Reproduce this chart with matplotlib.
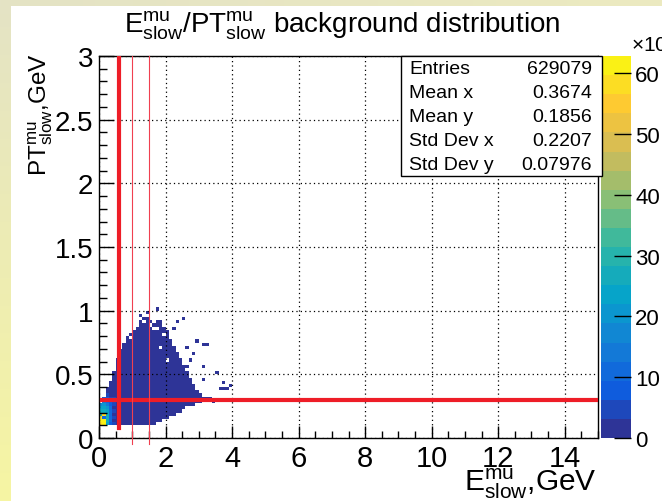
import numpy as np
import matplotlib
matplotlib.use("Agg")
import matplotlib.pyplot as plt
from matplotlib.colors import ListedColormap, LinearSegmentedColormap, BoundaryNorm
from matplotlib.patches import Rectangle
from matplotlib.ticker import MultipleLocator

plt.rcParams['font.family'] = ['Liberation Sans', 'DejaVu Sans']
plt.rcParams['mathtext.fontset'] = 'custom'
plt.rcParams['mathtext.rm'] = 'Liberation Sans'
plt.rcParams['mathtext.it'] = 'Liberation Sans:italic'

# binning of the 2D histogram (GeV)
x_bin = 0.1
y_bin = 0.025
x_max = 15.0
y_max = 3.0

# filled columns: lower x edge, and y span of occupied bins
col_x = [0.0, 0.1, 0.2, 0.3, 0.4, 0.5, 0.6, 0.7, 0.8, 0.9, 1.0, 1.1, 1.2, 1.3, 1.4, 1.5, 1.6,
         1.7, 1.8, 1.9, 2.0, 2.1, 2.2, 2.3, 2.4, 2.5, 2.6, 2.7, 2.8, 2.9, 3.0, 3.1, 3.2]
col_ylo = [0.100, 0.100, 0.100, 0.100, 0.100, 0.100, 0.100, 0.100, 0.100, 0.100, 0.100, 0.100,
           0.100, 0.100, 0.100, 0.100, 0.110, 0.125, 0.140, 0.160, 0.170, 0.180, 0.190, 0.210,
           0.220, 0.230, 0.250, 0.260, 0.270, 0.280, 0.290, 0.300, 0.300]
col_yhi = [0.230, 0.330, 0.400, 0.450, 0.530, 0.630, 0.700, 0.750, 0.800, 0.825, 0.850, 0.900,
           0.925, 0.950, 0.950, 0.925, 0.900, 0.925, 0.925, 0.875, 0.850, 0.775, 0.725, 0.675,
           0.625, 0.575, 0.525, 0.475, 0.425, 0.390, 0.360, 0.340, 0.330]
bulk_count = 1500

# isolated low-count bins outside the main band
stray_x = [1.7, 1.2, 1.4, 2.3, 2.5, 2.2, 2.9, 3.1, 3.2, 2.6, 2.8, 2.7, 3.1, 2.6, 3.1, 3.5,
           3.7, 3.6, 3.7, 3.8, 3.9, 3.3, 3.4]
stray_y = [1.000, 0.950, 0.975, 0.900, 0.925, 0.850, 0.750, 0.725, 0.725, 0.700, 0.650, 0.600,
           0.550, 0.550, 0.450, 0.500, 0.425, 0.375, 0.375, 0.375, 0.400, 0.300, 0.275]
stray_count = 300

# empty bins along the upper edge of the band
hole_x = [1.1, 1.3, 1.5, 1.6, 1.8, 1.9, 2.0, 0.9, 1.7]
hole_y = [0.875, 0.900, 0.875, 0.850, 0.700, 0.800, 0.600, 0.775, 0.850]

# high-occupancy bins at low E and PT
hot_x = [0.0, 0.0, 0.0, 0.0, 0.0, 0.0, 0.0,
         0.1, 0.1, 0.1, 0.1, 0.1, 0.1, 0.1, 0.1, 0.1,
         0.2, 0.2, 0.2, 0.2, 0.2, 0.2, 0.2, 0.2, 0.2, 0.2,
         0.3, 0.3, 0.3, 0.3, 0.3, 0.3, 0.3, 0.3, 0.3,
         0.4, 0.4, 0.4, 0.4, 0.4, 0.4]
hot_y = [0.100, 0.125, 0.150, 0.175, 0.200, 0.225, 0.250,
         0.100, 0.125, 0.150, 0.175, 0.200, 0.225, 0.250, 0.275, 0.300,
         0.100, 0.125, 0.150, 0.175, 0.200, 0.225, 0.250, 0.275, 0.300, 0.325,
         0.100, 0.125, 0.150, 0.175, 0.200, 0.225, 0.250, 0.275, 0.300,
         0.100, 0.150, 0.200, 0.250, 0.275, 0.300]
hot_n = [58000, 60000, 57000, 30000, 26000, 22000, 16000,
         62800, 61000, 12000, 59000, 28000, 25000, 20000, 14000, 9000,
         24000, 26000, 27000, 26000, 23000, 19000, 14000, 10000, 7000, 5000,
         9000, 11000, 12000, 12000, 11000, 10000, 8000, 7000, 5000,
         5000, 5500, 5000, 4500, 4000, 3500]

stats_names = ["Entries", "Mean x", "Mean y", "Std Dev x", "Std Dev y"]
stats_values = ["629079", "0.3674", "0.1856", "0.2207", "0.07976"]

z_max = 62800
n_levels = 20
z_ticks = [0, 10000, 20000, 30000, 40000, 50000, 60000]

# cut lines
cut_e = 0.6
cut_pt = 0.3
ref_e = [1.0, 1.5]

# ---- fill the histogram array
x_edges = np.arange(0, x_max + x_bin / 2, x_bin)
y_edges = np.arange(0, y_max + y_bin / 2, y_bin)
counts = np.zeros((len(y_edges) - 1, len(x_edges) - 1))


def idx(v, step):
    return int(np.floor(v / step + 1e-6))


for x, lo, hi in zip(col_x, col_ylo, col_yhi):
    counts[idx(lo, y_bin):idx(hi, y_bin), idx(x, x_bin)] = bulk_count
for x, y in zip(stray_x, stray_y):
    counts[idx(y, y_bin), idx(x, x_bin)] = stray_count
for x, y in zip(hole_x, hole_y):
    counts[idx(y, y_bin), idx(x, x_bin)] = 0
for x, y, n in zip(hot_x, hot_y, hot_n):
    counts[idx(y, y_bin), idx(x, x_bin)] = n

# ROOT kBird palette, split into contour bands
stops = [0.0, 0.125, 0.25, 0.375, 0.5, 0.625, 0.75, 0.875, 1.0]
red = [0.2082, 0.0592, 0.0780, 0.0232, 0.1802, 0.5301, 0.8186, 0.9956, 0.9764]
green = [0.1664, 0.3599, 0.5041, 0.6419, 0.7178, 0.7492, 0.7328, 0.7862, 0.9832]
blue = [0.5293, 0.8684, 0.8385, 0.7914, 0.6425, 0.4662, 0.3499, 0.1968, 0.0539]
bird = LinearSegmentedColormap.from_list(
    "bird", [(s, (r, g, b)) for s, r, g, b in zip(stops, red, green, blue)])
band_colors = [bird((i + 0.5) / n_levels) for i in range(n_levels)]
cmap = ListedColormap(band_colors)
cmap.set_over(band_colors[-1])
levels = np.linspace(0, z_max, n_levels + 1)
norm = BoundaryNorm(levels, n_levels)

W, H = 662, 502
fig = plt.figure(figsize=(W / 100, H / 100), dpi=100)

# slide background strips
bg = fig.add_axes([0, 0, 1, 1], zorder=-10)
img = np.ones((H, W, 3))
img[:, :11] = (np.linspace([228, 227, 197], [246, 245, 163], H) / 255)[:, None, :]
img[:7, :] = (np.linspace([228, 227, 197], [236, 234, 192], W) / 255)[None, :, :]
bg.imshow(img, aspect='auto', interpolation='nearest')
bg.axis('off')

ax = fig.add_axes([99 / W, (H - 439) / H, (598 - 99) / W, (439 - 57) / H])
mesh = ax.pcolormesh(x_edges, y_edges, np.ma.masked_equal(counts, 0),
                     cmap=cmap, norm=norm, edgecolors='none', antialiased=False)
ax.set_xlim(0, x_max)
ax.set_ylim(0, y_max)
ax.xaxis.set_major_locator(MultipleLocator(2))
ax.xaxis.set_minor_locator(MultipleLocator(0.5))
ax.yaxis.set_major_locator(MultipleLocator(0.5))
ax.yaxis.set_minor_locator(MultipleLocator(0.1))
ax.yaxis.set_major_formatter(plt.FuncFormatter(lambda v, p: f"{v:g}"))
ax.tick_params(axis='both', which='both', direction='in', top=False, right=False, width=1)
ax.tick_params(axis='x', which='major', length=9, labelsize=21, pad=4)
ax.tick_params(axis='x', which='minor', length=5)
ax.tick_params(axis='y', which='major', length=11, labelsize=20, pad=4)
ax.tick_params(axis='y', which='minor', length=6)
ax.grid(True, which='major', color='black', linestyle=(0, (1, 2.5)), linewidth=0.9)
ax.set_axisbelow(False)
for sp in ax.spines.values():
    sp.set_linewidth(1)

# selection cuts
ax.plot([cut_e, cut_e], [0.08, y_max], color='#ee1d27', lw=3, zorder=5)
ax.plot([0.1, x_max], [cut_pt, cut_pt], color='#ee1d27', lw=3, zorder=5)
for xe in ref_e:
    ax.plot([xe, xe], [-0.05, y_max], color='#f04050', lw=0.8, zorder=5, clip_on=False)

# palette axis
cax = fig.add_axes([601 / W, (H - 439) / H, 30 / W, (439 - 57) / H])
cb = fig.colorbar(mesh, cax=cax, ticks=z_ticks)
cb.outline.set_visible(False)
cax.yaxis.set_ticks_position('right')
cax.set_yticklabels([f"{t // 1000}" for t in z_ticks])
cax.tick_params(direction='in', length=12, width=1, labelsize=16, pad=3)
cax.minorticks_off()
fig.text(631 / W, 1 - 45 / H, r"$\times$10$^{3}$", ha='left', va='center', fontsize=15)

# statistics box
fig.add_artist(Rectangle((401 / W, 1 - 177 / H), 201 / W, 120 / H, transform=fig.transFigure,
                         facecolor='white', edgecolor='black', lw=1, zorder=20))
for i, (name, val) in enumerate(zip(stats_names, stats_values)):
    yy = 1 - (70 + 23.8 * i) / H
    fig.text(409 / W, yy, name, ha='left', va='center', fontsize=14, zorder=21)
    fig.text(592 / W, yy, val, ha='right', va='center', fontsize=14, zorder=21)

fig.text(342 / W, 1 - 26 / H,
         r"$\mathrm{E^{mu}_{slow}/PT^{mu}_{slow}}$ background distribution",
         ha='center', va='center', fontsize=20)
fig.text(597 / W, 1 - 491 / H, r"$\mathrm{E^{mu}_{slow}}$,GeV",
         ha='right', va='baseline', fontsize=21.5)
fig.text(55 / W, 1 - 53 / H, r"$\mathrm{PT^{mu}_{slow}}$,GeV",
         ha='right', va='top', rotation=90, fontsize=17.5)

fig.savefig("out.png", dpi=100)
